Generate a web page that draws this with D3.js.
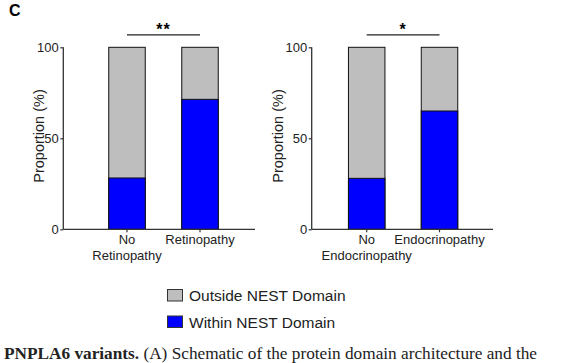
<!DOCTYPE html>
<html>
<head>
<meta charset="utf-8">
<script src="https://cdn.jsdelivr.net/npm/d3@7"></script>
<style>
  body { margin: 0; background: #fff; }
  svg { display: block; }
</style>
</head>
<body>
<div id="chart"></div>
<script>
// data
const retinoCats = ["No Retinopathy", "Retinopathy"]
const retinoWithin = [28.2, 71.4]
const endoCats = ["No Endocrinopathy", "Endocrinopathy"]
const endoWithin = [28, 65]
const yTicks = [0, 50, 100]
const legendLabels = ["Outside NEST Domain", "Within NEST Domain"]
const sigMarks = ["**", "*"]

const width = 574, height = 363
const grey = "#bebebe", blue = "#0000ff"

const svg = d3.select("#chart").append("svg")
  .attr("width", width)
  .attr("height", height)
  .style("font-family", "Arial, 'Liberation Sans', sans-serif")

const y = d3.scaleLinear().domain([0, 100]).range([229.3, 47.3])

// panel label
svg.append("text")
  .attr("x", 9).attr("y", 15.5)
  .text("C")
  .attr("font-weight", "bold")
  .attr("font-size", 16)

function panel(axisX, axisEnd, centers, cats, within, sig, labelX) {
  const g = svg.append("g")
  const x = d3.scalePoint().domain(cats).range(centers)
  const bw = 36.5

  // y axis
  const ya = g.append("g")
    .attr("transform", `translate(${axisX},0)`)
    .call(d3.axisLeft(y).tickValues(yTicks).tickSize(3).tickPadding(1.5))
  ya.select(".domain").remove()
  ya.selectAll("line").attr("stroke", "#333").attr("stroke-width", 1.2)
  ya.selectAll("text").attr("font-size", 13).attr("fill", "#222")
    .style("font-family", "Arial, 'Liberation Sans', sans-serif")
  g.append("line")
    .attr("x1", axisX).attr("x2", axisX)
    .attr("y1", y(100)).attr("y2", y(0))
    .attr("stroke", "#333").attr("stroke-width", 1.3)

  // bars: grey full, blue within
  cats.forEach((c, i) => {
    g.append("rect")
      .attr("x", x(c) - bw / 2).attr("width", bw)
      .attr("y", y(100)).attr("height", y(0) - y(100))
      .attr("fill", grey).attr("stroke", "#111").attr("stroke-width", 1)
    g.append("rect")
      .attr("x", x(c) - bw / 2).attr("width", bw)
      .attr("y", y(within[i])).attr("height", y(0) - y(within[i]))
      .attr("fill", blue).attr("stroke", "#111").attr("stroke-width", 1)
  })

  // x axis
  g.append("line")
    .attr("x1", axisX).attr("x2", axisEnd)
    .attr("y1", y(0)).attr("y2", y(0))
    .attr("stroke", "#333").attr("stroke-width", 1.3)
  cats.forEach(c => {
    g.append("line")
      .attr("x1", x(c)).attr("x2", x(c))
      .attr("y1", y(0)).attr("y2", y(0) + 3)
      .attr("stroke", "#333").attr("stroke-width", 1.2)
    const words = c.split(" ")
    const t = g.append("text")
      .attr("text-anchor", "middle")
      .attr("font-size", 13)
      .attr("fill", "#222")
    words.forEach((w, j) => {
      t.append("tspan")
        .attr("x", x(c)).attr("y", 244 + j * 16)
        .text(w)
    })
  })

  // y title
  g.append("text")
    .attr("transform", `translate(${labelX},136)rotate(-90)`)
    .attr("text-anchor", "middle")
    .attr("font-size", 14.5)
    .attr("fill", "#222")
    .text("Proportion (%)")

  // significance
  g.append("line")
    .attr("x1", x(cats[0])).attr("x2", x(cats[1]))
    .attr("y1", 34.8).attr("y2", 34.8)
    .attr("stroke", "#222").attr("stroke-width", 1.2)
  g.append("text")
    .attr("x", (x(cats[0]) + x(cats[1])) / 2)
    .attr("y", 35)
    .attr("text-anchor", "middle")
    .attr("font-size", 16)
    .attr("font-weight", "bold")
    .attr("letter-spacing", 1)
    .text(sig)
}

panel(63.3, 255, [127, 200], retinoCats, retinoWithin, sigMarks[0], 43.5)
panel(311.7, 493, [366.7, 439.5], endoCats, endoWithin, sigMarks[1], 283.3)

// legend
const legend = svg.append("g")
legendLabels.forEach((l, i) => {
  legend.append("rect")
    .attr("x", 167.5).attr("y", 289.5 + i * 26.5)
    .attr("width", 15).attr("height", 11.5)
    .attr("fill", i === 0 ? grey : blue)
    .attr("stroke", "#333").attr("stroke-width", 1)
  legend.append("text")
    .attr("x", 189).attr("y", 301 + i * 26.5)
    .attr("font-size", 15.5)
    .attr("fill", "#222")
    .text(l)
})

// caption line at the bottom edge
const cap = svg.append("text")
  .attr("x", 4).attr("y", 358.5)
  .attr("font-size", 16)
  .attr("fill", "#222")
  .style("font-family", "'Liberation Serif', 'DejaVu Serif', serif")
  .attr("textLength", 533)
  .attr("lengthAdjust", "spacingAndGlyphs")
cap.append("tspan").attr("font-weight", "bold").text("PNPLA6 variants.")
cap.append("tspan").text(" (A) Schematic of the protein domain architecture and the")
</script>
</body>
</html>
